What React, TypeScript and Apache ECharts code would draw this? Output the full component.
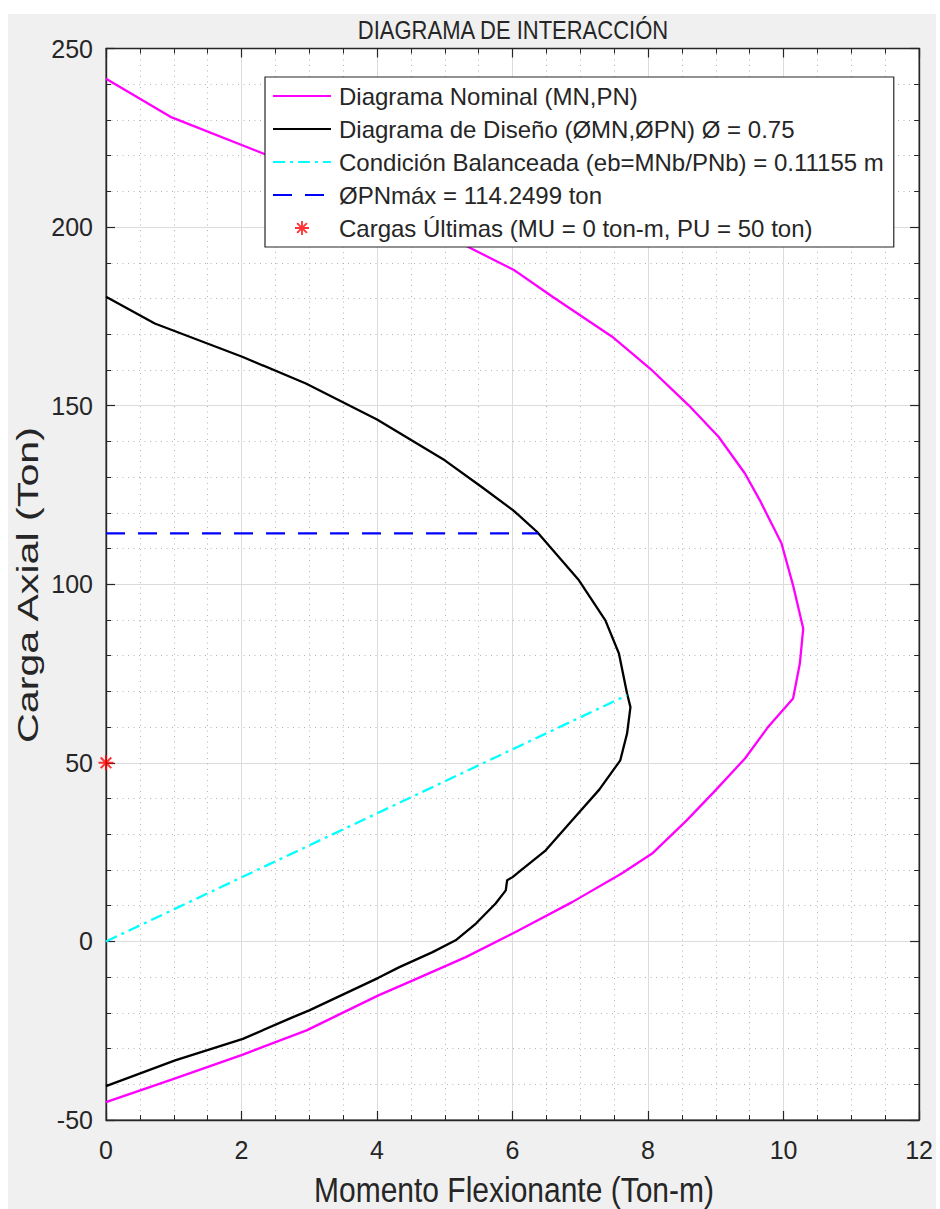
import React, { useEffect, useRef } from "react";
import * as echarts from "echarts";

// Nominal interaction diagram (MN, PN) [Ton-m, Ton]
const nominalCurve: [number, number][] = [
  [0, 241.5], [0.97, 230.7], [2.32, 220.6], [3.5, 211.5], [4.5, 202.0],
  [5.34, 194.5], [6.02, 188.0], [6.59, 180.5], [7.47, 169.3], [8.03, 160.4],
  [8.6, 150.1], [9.04, 141.3], [9.43, 131.0], [9.65, 123.5], [9.97, 111.4],
  [10.14, 99.7], [10.29, 87.6], [10.24, 77.8], [10.14, 68.0], [9.77, 60.0],
  [9.43, 51.2], [8.97, 41.8], [8.57, 33.9], [8.06, 24.6], [7.61, 19.0],
  [6.88, 11.0], [6.0, 2.2], [5.31, -4.4], [4.53, -10.9], [4.02, -15.1],
  [2.96, -24.9], [2.02, -31.7], [1.0, -38.5], [0, -45.0],
];

// Design interaction diagram (ØMN, ØPN)
const designCurve: [number, number][] = [
  [0, 180.5], [0.72, 173.0], [2.01, 163.7], [2.95, 156.2], [4.0, 146.1],
  [5.0, 134.7], [5.54, 127.3], [6.01, 120.7], [6.36, 114.7], [6.98, 101.1],
  [7.37, 89.9], [7.57, 80.6], [7.69, 69.4], [7.74, 65.6], [7.69, 58.2],
  [7.59, 50.7], [7.28, 42.5], [6.88, 33.9], [6.49, 25.5], [6.0, 18.0],
  [5.92, 17.1], [5.9, 14.3], [5.75, 10.6], [5.46, 5.0], [5.16, 0.3],
  [4.82, -3.0], [4.33, -7.2], [4.02, -10.2], [3.0, -19.3], [2.76, -21.2],
  [2.02, -27.3], [1.02, -33.3], [0, -40.5],
];

// Balanced condition line (origin to balanced design point)
const balancedLine: [number, number][] = [[0, 0], [7.69, 68.94]];

// ØPN max line
const phiPnMaxLine: [number, number][] = [[0, 114.2499], [6.38, 114.2499]];

// Ultimate loads (MU, PU)
const ultimateLoads: [number, number][] = [[0, 50]];

const seriesNames = [
  "Diagrama Nominal (MN,PN)",
  "Diagrama de Diseño (ØMN,ØPN) Ø = 0.75",
  "Condición Balanceada (eb=MNb/PNb) = 0.11155 m",
  "ØPNmáx = 114.2499 ton",
  "Cargas Últimas (MU = 0 ton-m, PU = 50 ton)",
];

const titleText = "DIAGRAMA DE INTERACCIÓN";
const xAxisName = "Momento Flexionante (Ton-m)";
const yAxisName = "Carga Axial (Ton)";

const xMin = 0, xMax = 12, xStep = 2;
const yMin = -50, yMax = 250, yStep = 50;

const ASTERISK =
  "path://M-0.8,-6L0.8,-6L0.8,6L-0.8,6Z" +
  "M-6,-0.8L6,-0.8L6,0.8L-6,0.8Z" +
  "M-3.68,-4.81L4.81,3.68L3.68,4.81L-4.81,-3.68Z" +
  "M3.68,-4.81L4.81,-3.68L-3.68,4.81L-4.81,3.68Z";

const FONT = "'Liberation Sans', Arial, Helvetica, sans-serif";
const TXT = "#262626";

export default function App() {
  const ref = useRef<HTMLDivElement>(null);
  useEffect(() => {
    if (!ref.current) return;
    const chart = echarts.init(ref.current, undefined, { renderer: "svg" });
    const axisCommon = {
      axisLine: { show: true, onZero: false, lineStyle: { color: TXT, width: 1.4 } },
      axisTick: { show: true, inside: true, length: 9, lineStyle: { color: TXT, width: 1.2 } },
      minorTick: { show: true, length: 5, lineStyle: { color: TXT, width: 1 } },
    };
    const centered = {
      align: "center",
      verticalAlign: "middle",
      textAlign: "center",
      textVerticalAlign: "middle",
      fill: TXT,
    };
    const lineLegendItem = (name: string) => ({ name, itemStyle: { opacity: 0 } });
    const option: any = {
      animation: false,
      backgroundColor: "#f0f0f0",
      textStyle: { fontFamily: FONT },
      grid: {
        left: 98,
        right: 14,
        top: 34.5,
        bottom: 89,
        show: true,
        backgroundColor: "#ffffff",
        borderColor: TXT,
        borderWidth: 1,
      },
      graphic: [
        {
          type: "text",
          x: 505,
          y: 16,
          scaleY: 1.2,
          style: { ...centered, text: titleText, font: `22px ${FONT}` },
        },
        {
          type: "text",
          x: 506,
          y: 1176,
          scaleY: 1.15,
          style: { ...centered, text: xAxisName, font: `30px ${FONT}` },
        },
        {
          type: "text",
          x: 20,
          y: 571,
          rotation: Math.PI / 2,
          scaleX: 1.42,
          style: { ...centered, text: yAxisName, font: `29px ${FONT}` },
        },
      ],
      legend: {
        orient: "vertical",
        left: 257,
        top: 63,
        padding: [7, 10, 7, 7],
        itemWidth: 58,
        itemHeight: 14,
        itemGap: 9,
        backgroundColor: "#ffffff",
        borderColor: TXT,
        borderWidth: 1.2,
        borderRadius: 0,
        selectedMode: false,
        textStyle: { fontSize: 24, color: TXT, fontFamily: FONT, padding: [0, 0, 0, 3] },
        data: [
          lineLegendItem(seriesNames[0]),
          lineLegendItem(seriesNames[1]),
          lineLegendItem(seriesNames[2]),
          lineLegendItem(seriesNames[3]),
          { name: seriesNames[4], icon: ASTERISK },
        ],
      },
      xAxis: [
        {
          type: "value",
          min: xMin,
          max: xMax,
          interval: xStep,
          position: "bottom",
          ...axisCommon,
          minorTick: { ...axisCommon.minorTick, splitNumber: 4 },
          axisLabel: { color: TXT, fontSize: 25, margin: 17, fontFamily: FONT },
          splitLine: { show: true, lineStyle: { color: "#dcdcdc", width: 1 } },
          minorSplitLine: { show: true, lineStyle: { color: "#b4b4b4", width: 1, type: [1, 4.5] } },
        },
        {
          type: "value",
          min: xMin,
          max: xMax,
          interval: xStep,
          position: "top",
          ...axisCommon,
          minorTick: { ...axisCommon.minorTick, splitNumber: 4 },
          axisLabel: { show: false },
          splitLine: { show: false },
        },
      ],
      yAxis: [
        {
          type: "value",
          min: yMin,
          max: yMax,
          interval: yStep,
          position: "left",
          ...axisCommon,
          minorTick: { ...axisCommon.minorTick, splitNumber: 5 },
          axisLabel: { color: TXT, fontSize: 25, margin: 13, fontFamily: FONT },
          splitLine: { show: true, lineStyle: { color: "#dcdcdc", width: 1 } },
          minorSplitLine: { show: true, lineStyle: { color: "#b4b4b4", width: 1, type: [1, 4.5] } },
        },
        {
          type: "value",
          min: yMin,
          max: yMax,
          interval: yStep,
          position: "right",
          ...axisCommon,
          minorTick: { ...axisCommon.minorTick, splitNumber: 5 },
          axisLabel: { show: false },
          splitLine: { show: false },
        },
      ],
      series: [
        {
          name: seriesNames[0],
          type: "line",
          data: nominalCurve,
          showSymbol: false,
          symbol: "none",
          clip: false,
          lineStyle: { color: "#ff00ff", width: 2.3 },
          itemStyle: { color: "#ff00ff" },
          z: 3,
        },
        {
          name: seriesNames[1],
          type: "line",
          data: designCurve,
          showSymbol: false,
          symbol: "none",
          clip: false,
          lineStyle: { color: "#000000", width: 2.3 },
          itemStyle: { color: "#000000" },
          z: 3,
        },
        {
          name: seriesNames[2],
          type: "line",
          data: balancedLine,
          showSymbol: false,
          symbol: "none",
          clip: false,
          lineStyle: { color: "#00ffff", width: 2.3, type: [12, 5, 3, 5] },
          itemStyle: { color: "#00ffff" },
          z: 3,
        },
        {
          name: seriesNames[3],
          type: "line",
          data: phiPnMaxLine,
          showSymbol: false,
          symbol: "none",
          clip: false,
          lineStyle: { color: "#0000ff", width: 2.3, type: [19, 13] },
          itemStyle: { color: "#0000ff" },
          z: 3,
        },
        {
          name: seriesNames[4],
          type: "scatter",
          data: ultimateLoads,
          symbol: ASTERISK,
          symbolSize: 15,
          symbolKeepAspect: true,
          clip: false,
          itemStyle: { color: "#ff0000" },
          z: 4,
        },
      ],
    };
    chart.setOption(option);
    return () => chart.dispose();
  }, []);
  return (
    <div
      ref={ref}
      style={{ position: "fixed", left: 8, top: 14, width: 928, height: 1195 }}
    />
  );
}
